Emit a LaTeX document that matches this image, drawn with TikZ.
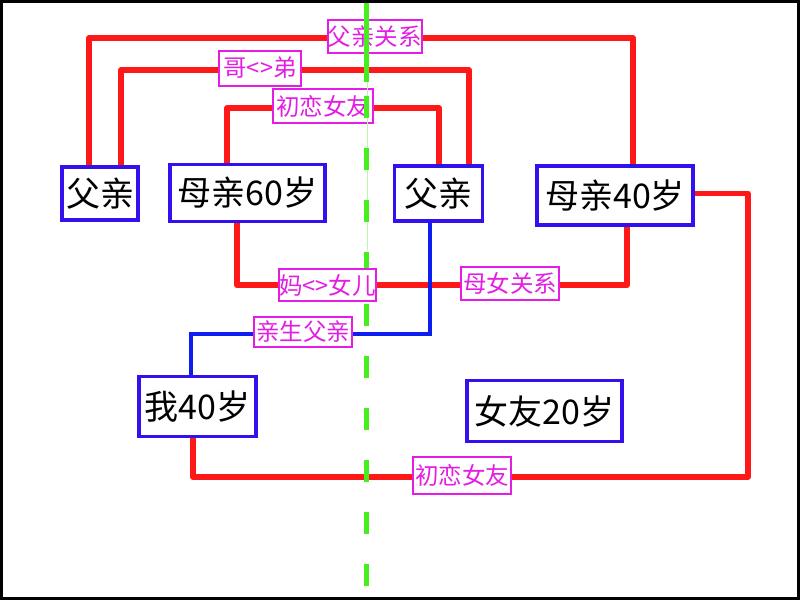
\documentclass[tikz,border=0pt]{standalone}
\usepackage{fontspec}
\setmainfont{Noto Sans CJK SC}
\pgfdeclarelayer{paper}
\pgfdeclarelayer{bg}
\pgfsetlayers{paper,bg,main}
\definecolor{boxblue}{RGB}{51,17,238}
\definecolor{lineblue}{RGB}{12,30,240}
\definecolor{linered}{RGB}{255,24,24}
\definecolor{relmag}{RGB}{228,28,228}
\definecolor{guidegreen}{RGB}{70,238,30}
\begin{document}
\begin{tikzpicture}[x=1pt,y=-1pt,
  person/.style={draw=boxblue, line width=3.5pt, fill=white, inner sep=0pt, text=black,
    font=\fontsize{34}{40}\selectfont},
  rel/.style={draw=relmag, line width=2pt, fill=white, inner sep=0pt, text=relmag,
    font=\fontsize{23.5}{27}\selectfont},
  redline/.style={draw=linered, line width=5.5pt, line join=round, line cap=round},
  blueline/.style={draw=lineblue, line width=4pt, line join=miter},
  guide/.style={draw=guidegreen, line width=5pt}]
\useasboundingbox (0,0) rectangle (800,600);
\begin{pgfonlayer}{paper}
\fill[white] (0,0) rectangle (800,600);
\end{pgfonlayer}

% persons
\node[person, minimum width=76pt, minimum height=53pt] (fa1) at (100,193.5) {父亲};
\node[person, minimum width=155pt, minimum height=57pt] (mo60) at (247.5,193) {母亲60岁};
\node[person, minimum width=88pt, minimum height=55pt] (fa2) at (438.5,193.5) {父亲};
\node[person, minimum width=156pt, minimum height=59pt] (mo40) at (615,195.5) {母亲40岁};
\node[person, minimum width=117pt, minimum height=60pt] (me) at (197.5,406.5) {我40岁};
\node[person, minimum width=155pt, minimum height=61pt] (gf) at (544.5,411) {女友20岁};

% corner points
\coordinate (a1) at (89,38);   \coordinate (a2) at (633,38);
\coordinate (b1) at (121,70);  \coordinate (b2) at (469,70);
\coordinate (c1) at (227,108); \coordinate (c2) at (439,108);
\coordinate (d1) at (237,285); \coordinate (d2) at (627,285);
\coordinate (e1) at (193,477); \coordinate (e2) at (748,477); \coordinate (e3) at (748,193.5);
\coordinate (f1) at (429.5,333.5); \coordinate (f2) at (190.5,333.5);

\begin{pgfonlayer}{bg}
\draw[redline] (fa1.north -| a1) -- (a1) -- (a2) -- (mo40.north -| a2);
\draw[redline] (fa1.north -| b1) -- (b1) -- (b2) -- (fa2.north -| b2);
\draw[redline] (mo60.north -| c1) -- (c1) -- (c2) -- (fa2.north -| c2);
\draw[redline] (mo60.south -| d1) -- (d1) -- (d2) -- (mo40.south -| d2);
\draw[redline] (me.south -| e1) -- (e1) -- (e2) -- (e3) -- ([xshift=1pt]mo40.east |- e3);
\draw[blueline] (fa2.south -| f1) -- (f1) -- (f2) -- (me.north -| f2);
\end{pgfonlayer}

% relation labels
\node[rel, minimum width=94pt, minimum height=33pt] (l1) at (374.5,36.5) {父亲关系};
\node[rel, minimum width=82pt, minimum height=35pt] (l2) at (260,68) {哥<>弟};
\node[rel, minimum width=100pt, minimum height=34pt] (l3) at (323,106) {初恋女友};
\node[rel, minimum width=98pt, minimum height=33pt] (l5) at (510,283.5) {母女关系};
\node[rel, minimum width=98pt, minimum height=30pt] (l6) at (303,332) {亲生父亲};
\node[rel, minimum width=98pt, minimum height=37pt] (l7) at (462,475) {初恋女友};

% green guide line
\draw[draw=guidegreen!40, line width=0.8pt] (367,0) -- (367,250);
\draw[guide] (366,0) -- (366,82);
\draw[guide, dash pattern=on 22pt off 30pt] (366,-8) -- (366,586);

\node[rel, minimum width=97pt, minimum height=32pt] (l4) at (327.5,285) {妈<>女儿};

% frame
\draw[black, line width=3pt] (1.5,1.5) rectangle (798.5,598.5);
\end{tikzpicture}
\end{document}
